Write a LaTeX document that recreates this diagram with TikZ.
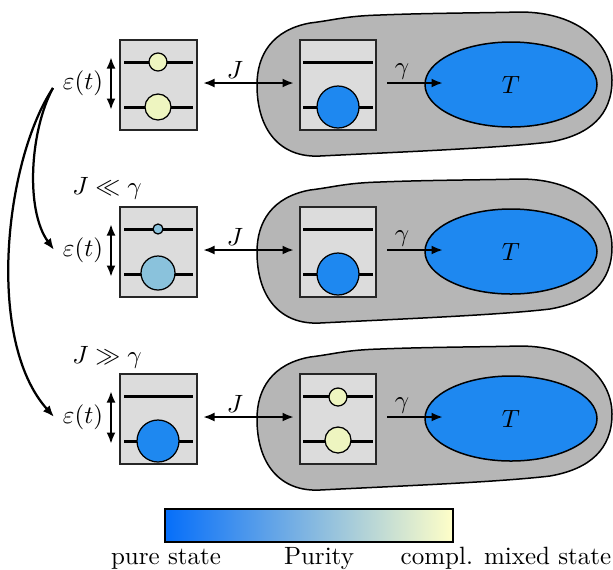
\documentclass[tikz,border=0pt]{standalone}
\usetikzlibrary{arrows.meta,shapes.geometric}
\definecolor{blobgray}{RGB}{182,182,182}
\definecolor{boxfill}{RGB}{220,220,220}
\definecolor{pureblue}{RGB}{30,136,240}
\definecolor{mixyellow}{RGB}{238,245,192}
\definecolor{midblue}{RGB}{138,194,220}
\begin{document}
\begin{tikzpicture}[x=0.4pt,y=-0.4pt,
  boxst/.style={draw=black!85, line width=0.5pt, fill=boxfill, minimum width=30.8pt, minimum height=36pt, inner sep=0pt},
  levelst/.style={line width=1.2pt},
  arr/.style={line width=0.9pt, -{Latex[length=4.6pt,width=3.6pt]}},
  darr/.style={line width=0.9pt, {Latex[length=4.6pt,width=3.6pt]}-{Latex[length=4.6pt,width=3.6pt]}},
  dotst/.style={draw=black, line width=0.5pt},
  blobst/.style={draw=black, line width=0.6pt, fill=blobgray},
  ellst/.style={ellipse, draw=black, line width=0.6pt, fill=pureblue, minimum width=68.8pt, minimum height=34pt, inner sep=0pt},
  ]
\useasboundingbox (0,0) rectangle (613,569);

\foreach \r/\dy in {1/0,2/167,3/334}{
\begin{scope}[shift={(0,\dy)}]
  \draw[blobst] (257,85) .. controls (257,55) and (272,30) .. (310,23)
    .. controls (335,20) and (345,16) .. (380,15)
    .. controls (430,13) and (480,13) .. (520,12)
    .. controls (580,12) and (612,45) .. (612,80)
    .. controls (612,115) and (590,135) .. (550,142)
    .. controls (500,148) and (400,152) .. (320,156)
    .. controls (280,158) and (257,130) .. cycle;
  \node[boxst] (lb\r) at (158.5,85) {};
  \node[boxst, minimum width=30.4pt] (mb\r) at (338,85) {};
  \node[ellst] (T\r) at (511,84.5) {$T$};
  \draw[levelst] (124,62) -- (193,62);
  \draw[levelst] (124,107) -- (193,107);
  \draw[levelst] (303,62) -- (373,62);
  \draw[levelst] (303,107) -- (373,107);
  \node (eps\r) at (83,83) {$\varepsilon(t)$};
  \coordinate (ut\r) at (111,57);
  \coordinate (ub\r) at (111,110);
  \draw[darr] (ut\r) -- (ub\r);
  \coordinate (ja\r) at (203,83);
  \coordinate (jb\r) at (294,83);
  \draw[darr] (ja\r) -- (jb\r);
  \node (J\r) at (235,70) {$J$};
  \coordinate (ga\r) at (387,83);
  \coordinate (gb\r) at (443,83);
  \draw[arr] (ga\r) -- (gb\r);
  \node (g\r) at (402,72) {$\gamma$};
\end{scope}
}

% row 1 populations
\filldraw[dotst, fill=mixyellow] (158,62) circle[radius=9];
\filldraw[dotst, fill=mixyellow] (158,107) circle[radius=13];
\filldraw[dotst, fill=pureblue] (338,107) circle[radius=21];
% row 2
\filldraw[dotst, fill=midblue] (158,229) circle[radius=5];
\filldraw[dotst, fill=midblue] (158,273) circle[radius=17];
\filldraw[dotst, fill=pureblue] (338,274) circle[radius=21];
% row 3
\filldraw[dotst, fill=pureblue] (158,441) circle[radius=21];
\filldraw[dotst, fill=mixyellow] (338,397) circle[radius=9];
\filldraw[dotst, fill=mixyellow] (338,440) circle[radius=13];

\node (c2) at (107,188) {$J \ll \gamma$};
\node (c3) at (107,357) {$J \gg \gamma$};

\coordinate (src) at (53,88);
\draw[arr] (src) .. controls (30,130) and (25,210) .. (eps2.west);
\draw[arr] (src) .. controls (5,160) and (-15,340) .. (eps3.west);

% colour bar
\shade[left color={rgb,255:red,5;green,110;blue,250}, middle color={rgb,255:red,140;green,192;blue,216}, right color={rgb,255:red,255;green,255;blue,200}] (165,509) rectangle (453,542);
\node[draw=black, line width=0.5pt, minimum width=115.2pt, minimum height=13.2pt, inner sep=0pt] (bar) at (309,525.5) {};
\node[anchor=base] (l1) at (166,564) {pure state};
\node[anchor=base] (l2) at (319,564) {Purity};
\node[anchor=base] (l3) at (506,564) {compl. mixed state};
\end{tikzpicture}
\end{document}
